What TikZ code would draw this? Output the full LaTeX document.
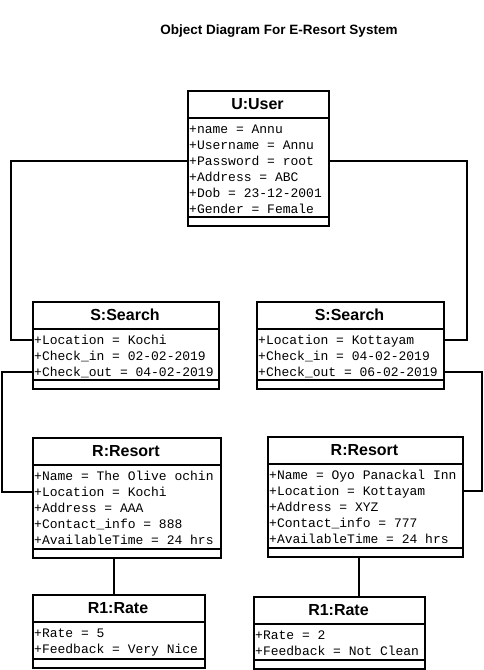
\documentclass[tikz,border=0pt]{standalone}
\usepackage{fontspec}
\newfontfamily\monof{Liberation Mono}
\newfontfamily\sansf{Liberation Sans}
\tikzset{
  box/.style={draw, line width=2pt, inner sep=0pt, anchor=north west},
  sepline/.style={line width=2pt},
  attr/.style={anchor=west, inner sep=0pt, font=\monof\fontsize{13}{13}\selectfont, text height=10pt, text depth=2pt},
  otitle/.style={inner sep=0pt, font=\sansf\bfseries\fontsize{16}{16}\selectfont, text height=11.5pt, text depth=0pt},
  conn/.style={line width=2pt},
  heading/.style={inner sep=0pt, font=\sansf\bfseries\fontsize{13.5}{13.5}\selectfont},
}
% #1 id, #2 left, #3 top, #4 right, #5 bottom, #6 title, #7 rows
\newcommand{\objbox}[7]{%
  \node[box, minimum width={(#4)-(#2)}, minimum height={(#5)-(#3)}] (#1) at (#2,#3) {};
  \draw[sepline] (#2,#3+28) -- (#4,#3+28);
  \draw[sepline] (#2,#5-8) -- (#4,#5-8);
  \node[otitle] (#1-t) at ({(#2+#4)/2},#3+14) {#6};
  \foreach \t [count=\i] in {#7} {\node[attr] (#1-\i) at (#2+2,{#3+39+16*(\i-1)}) {\t};}
}
\begin{document}
\begin{tikzpicture}[x=1pt,y=-1pt]
\fill[white] (0,0) rectangle (484,670);
\useasboundingbox (0,0) rectangle (484,670);
\node[heading] (head) at (279,31) {Object Diagram For E-Resort System};
\objbox{user}{187}{90}{328}{225}{U:User}{+name = Annu,+Username = Annu,+Password = root,+Address = ABC,+Dob = 23-12-2001,+Gender = Female}
\objbox{sL}{32}{301}{218}{388}{S:Search}{+Location = Kochi,+Check\_in = 02-02-2019,+Check\_out = 04-02-2019}
\objbox{sR}{256}{301}{443}{388}{S:Search}{+Location = Kottayam,+Check\_in = 04-02-2019,+Check\_out = 06-02-2019}
\objbox{rL}{32}{437}{220}{557}{R:Resort}{+Name = The Olive ochin,+Location = Kochi,+Address = AAA,+Contact\_info = 888,+AvailableTime = 24 hrs}
\objbox{rR}{267}{436}{462}{556}{R:Resort}{+Name = Oyo Panackal Inn,+Location = Kottayam,+Address = XYZ,+Contact\_info = 777,+AvailableTime = 24 hrs}
\objbox{rateL}{32}{594}{204}{667}{R1:Rate}{+Rate = 5,+Feedback = Very Nice}
\objbox{rateR}{253}{596}{424}{668}{R1:Rate}{+Rate = 2,+Feedback = Not Clean}
\coordinate (b1) at (11,0);
\coordinate (b2) at (467,0);
\coordinate (b3) at (2,0);
\coordinate (b4) at (482,0);
\coordinate (c5) at (114,0);
\coordinate (c6) at (359,0);
\draw[conn] (user.west |- user-3) -| (b1 |- sL-1) -- (sL.west |- sL-1);
\draw[conn] (user.east |- user-3) -| (b2 |- sR-1) -- (sR.east |- sR-1);
\draw[conn] (sL.west |- sL-3) -| (b3 |- rL-2) -- (rL.west |- rL-2);
\draw[conn] (sR.east |- sR-3) -| (b4 |- rR-2) -- (rR.east |- rR-2);
\draw[conn] (rL.south -| c5) -- (rateL.north -| c5);
\draw[conn] (rR.south -| c6) -- (rateR.north -| c6);
\end{tikzpicture}
\end{document}
